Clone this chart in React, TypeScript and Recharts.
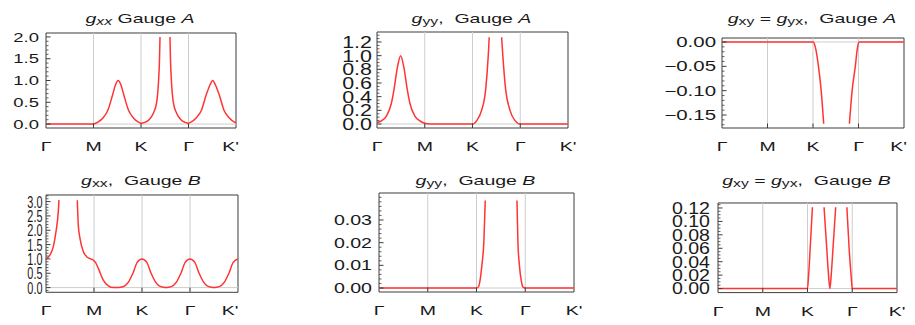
import { Line, LineChart, ReferenceArea, ReferenceLine, XAxis, YAxis } from 'recharts'

type Pt = [number, number | null]

// x positions along the path: Γ=0, M=1, K=2, Γ=3, K'=4
const xTicks = [0, 1, 2, 3, 4]
const xLabels = ['Γ', 'M', 'K', 'Γ', "K'"]

// values (null = curve leaves the plot range)
const gxxA: Pt[] = [
  [0, 0], [1, 0], [1.1, 0.05], [1.2, 0.14], [1.3, 0.31], [1.4, 0.66], [1.46, 0.89], [1.52, 1.0],
  [1.58, 0.89], [1.64, 0.66], [1.74, 0.31], [1.84, 0.14], [1.94, 0.05], [2.0, 0.02],
  [2.08, 0.04], [2.17, 0.1], [2.26, 0.25], [2.33, 0.5], [2.37, 1.0], [2.39, 1.5], [2.4, 2.0], [2.5, null],
  [2.61, 2.0], [2.62, 1.5], [2.64, 1.0], [2.68, 0.5], [2.75, 0.25], [2.84, 0.1], [2.93, 0.04], [3.0, 0.02],
  [3.06, 0.05], [3.16, 0.14], [3.27, 0.31], [3.37, 0.66], [3.45, 0.89], [3.51, 1.0], [3.57, 0.89],
  [3.65, 0.66], [3.75, 0.31], [3.86, 0.14], [3.96, 0.05], [4.0, 0.03],
]

const gyyA: Pt[] = [
  [0, 0.02], [0.1, 0.05], [0.2, 0.12], [0.3, 0.3], [0.355, 0.5], [0.425, 0.82], [0.495, 1.0],
  [0.565, 0.82], [0.635, 0.5], [0.69, 0.3], [0.79, 0.12], [0.89, 0.05], [1.0, 0.01], [1.1, 0.0],
  [2.0, 0.0], [2.09, 0.05], [2.19, 0.2], [2.275, 0.5], [2.33, 1.0], [2.35, 1.27], [2.48, null],
  [2.61, 1.27], [2.635, 1.0], [2.695, 0.5], [2.785, 0.2], [2.89, 0.05], [3.0, 0.0], [4.0, 0.0],
]

const gxyA: Pt[] = [
  [0, 0], [2.0, 0], [2.05, -0.01], [2.12, -0.05], [2.18, -0.1], [2.235, -0.168], [2.5, null],
  [2.8, -0.168], [2.86, -0.1], [2.93, -0.05], [2.98, -0.01], [3.02, 0], [4, 0],
]

const gxxB: Pt[] = [
  [0, 1.0], [0.083, 1.14], [0.152, 1.43], [0.208, 1.95], [0.256, 2.65], [0.27, 3.05], [0.45, null],
  [0.652, 3.05], [0.673, 2.18], [0.708, 1.72], [0.777, 1.26], [0.848, 1.08], [0.93, 1.0], [0.985, 0.96],
  [1.03, 0.88], [1.09, 0.67], [1.19, 0.27], [1.3, 0.06], [1.4, 0.0], [1.47, 0.0],
  [1.55, 0.01], [1.64, 0.06], [1.72, 0.2], [1.81, 0.5], [1.9, 0.88], [2.0, 1.0],
  [2.1, 0.88], [2.19, 0.5], [2.28, 0.2], [2.36, 0.06], [2.45, 0.01], [2.5, 0.0],
  [2.55, 0.01], [2.64, 0.06], [2.72, 0.2], [2.81, 0.5], [2.9, 0.88], [3.0, 1.0],
  [3.1, 0.88], [3.19, 0.5], [3.28, 0.2], [3.36, 0.06], [3.45, 0.01], [3.5, 0.0],
  [3.55, 0.01], [3.64, 0.06], [3.72, 0.2], [3.81, 0.5], [3.9, 0.88], [4.0, 1.0],
]

const gyyB: Pt[] = [
  [0, 0], [2.0, 0], [2.04, 0.0005], [2.07, 0.003], [2.11, 0.01], [2.15, 0.02], [2.18, 0.0386], [2.5, null],
  [2.83, 0.0386], [2.85, 0.02], [2.88, 0.01], [2.92, 0.003], [2.95, 0.0005], [3.0, 0], [4, 0],
]

const gxyB: Pt[] = [
  [0, 0], [2.0, 0], [2.02, 0.015], [2.06, 0.06], [2.11, 0.121], [2.24, null],
  [2.37, 0.121], [2.43, 0.06], [2.47, 0.02], [2.5, 0.0], [2.53, 0.02], [2.57, 0.06], [2.63, 0.121], [2.75, null],
  [2.88, 0.121], [2.93, 0.06], [2.98, 0.015], [3.0, 0], [4, 0],
]

// y tick labels
const ticksGxxA = [0, 0.5, 1, 1.5, 2]
const labelsGxxA = ['0.0', '0.5', '1.0', '1.5', '2.0']
const ticksGyyA = [0, 0.2, 0.4, 0.6, 0.8, 1.0, 1.2]
const labelsGyyA = ['0.0', '0.2', '0.4', '0.6', '0.8', '1.0', '1.2']
const ticksGxyA = [0, -0.05, -0.1, -0.15]
const labelsGxyA = ['0.00', '−0.05', '−0.10', '−0.15']
const ticksGxxB = [0, 0.5, 1, 1.5, 2, 2.5, 3]
const labelsGxxB = ['0.0', '0.5', '1.0', '1.5', '2.0', '2.5', '3.0']
const ticksGyyB = [0, 0.01, 0.02, 0.03]
const labelsGyyB = ['0.00', '0.01', '0.02', '0.03']
const ticksGxyB = [0, 0.02, 0.04, 0.06, 0.08, 0.1, 0.12]
const labelsGxyB = ['0.00', '0.02', '0.04', '0.06', '0.08', '0.10', '0.12']

const FONT = '"Liberation Sans", Arial, Helvetica, sans-serif'
const RED = '#ff3434'
const GRID = '#cdcdcd'
const FRAME = '#3c3c3c'
const INK = '#1a1a1a'

const PAD_L = 60
const PAD_T = 6
const PAD_R = 8
const PAD_B = 34

// minor tick positions, rounded so they compare cleanly with the majors
function steps(lo: number, hi: number, step: number) {
  const out: number[] = []
  const n = Math.round((hi - lo) / step)
  for (let i = 0; i <= n; i++) out.push(Math.round((lo + i * step) * 1e6) / 1e6)
  return out
}

type Part = { s: string; i?: boolean; sub?: boolean }

type PanelCfg = {
  frame: { l: number; t: number; r: number; b: number }
  domain: [number, number]
  points: Pt[]
  major: number[]
  labels: string[]
  minor: number[]
  fs: number
  sx: number
  gap: number
  lastDx: number
  title: Part[]
}

const g = (sub: string, italicSub = false): Part[] => [{ s: 'g', i: true }, { s: sub, sub: true, i: italicSub }]

const panels: PanelCfg[] = [
  {
    frame: { l: 46, t: 33, r: 236, b: 128 }, domain: [-0.09, 2.09], points: gxxA,
    major: ticksGxxA, labels: labelsGxxA, minor: steps(0, 2, 0.1),
    fs: 13, sx: 1.42, gap: 7, lastDx: -5.5,
    title: [...g('xx', true), { s: ' Gauge ' }, { s: 'A', i: true }],
  },
  {
    frame: { l: 377, t: 32, r: 568, b: 128 }, domain: [-0.0585, 1.346], points: gyyA,
    major: ticksGyyA, labels: labelsGyyA, minor: steps(0, 1.3, 0.05),
    fs: 16.5, sx: 1.3, gap: 5, lastDx: 0,
    title: [...g('yy'), { s: ',  Gauge ' }, { s: 'A', i: true }],
  },
  {
    frame: { l: 722, t: 38, r: 904, b: 128 }, domain: [-0.1767, 0.0082], points: gxyA,
    major: ticksGxyA, labels: labelsGxyA, minor: steps(-0.17, 0, 0.01),
    fs: 14, sx: 1.46, gap: 6, lastDx: -5.5,
    title: [...g('xy'), { s: ' = ' }, ...g('yx'), { s: ',  Gauge ' }, { s: 'A', i: true }],
  },
  {
    frame: { l: 46, t: 194.7, r: 238, b: 292 }, domain: [-0.164, 3.23], points: gxxB,
    major: ticksGxxB, labels: labelsGxxB, minor: steps(-0.1, 3.2, 0.1),
    fs: 17, sx: 0.64, gap: 3.5, lastDx: -8,
    title: [...g('xx'), { s: ',  Gauge ' }, { s: 'B', i: true }],
  },
  {
    frame: { l: 379, t: 193, r: 574, b: 292 }, domain: [-0.00176, 0.0419], points: gyyB,
    major: ticksGyyB, labels: labelsGyyB, minor: steps(0, 0.04, 0.002),
    fs: 14, sx: 1.4, gap: 7, lastDx: 0,
    title: [...g('yy'), { s: ',  Gauge ' }, { s: 'B', i: true }],
  },
  {
    frame: { l: 718, t: 202.7, r: 897, b: 292.3 }, domain: [-0.006, 0.1274], points: gxyB,
    major: ticksGxyB, labels: labelsGxyB, minor: steps(0, 0.125, 0.005),
    fs: 16.3, sx: 1.2, gap: 8, lastDx: 0,
    title: [...g('xy'), { s: ' = ' }, ...g('yx'), { s: ',  Gauge ' }, { s: 'B', i: true }],
  },
]

function makeYTick(cfg: PanelCfg) {
  return (props: any) => {
    const { x, y, payload } = props
    const k = cfg.major.findIndex((m) => Math.abs(m - payload.value) < 1e-6)
    if (k < 0) {
      return <line x1={x} x2={x + 2.5} y1={y} y2={y} stroke={FRAME} strokeWidth={0.8} />
    }
    return (
      <g>
        <line x1={x} x2={x + 4.5} y1={y} y2={y} stroke={FRAME} strokeWidth={1} />
        <text
          transform={`translate(${x - cfg.gap},${y + cfg.fs * 0.36}) scale(${cfg.sx},1)`}
          textAnchor="end"
          fontSize={cfg.fs}
          fontFamily={FONT}
          fill={INK}
        >
          {cfg.labels[k]}
        </text>
      </g>
    )
  }
}

function makeXTick(cfg: PanelCfg) {
  return (props: any) => {
    const { x, y, payload } = props
    const k = xTicks.indexOf(payload.value)
    const inner = k > 0 && k < xTicks.length - 1
    const dx = k === xTicks.length - 1 ? cfg.lastDx : 0
    return (
      <g>
        {inner && <line x1={x} x2={x} y1={y} y2={y - 4.5} stroke={FRAME} strokeWidth={1} />}
        <text
          transform={`translate(${x + dx},${y + 23}) scale(1.5,1)`}
          textAnchor="middle"
          fontSize={13}
          fontFamily={FONT}
          fill={INK}
        >
          {xLabels[k]}
        </text>
      </g>
    )
  }
}

function Panel({ cfg }: { cfg: PanelCfg }) {
  const { frame, domain } = cfg
  const w = frame.r - frame.l
  const h = frame.b - frame.t
  const data = cfg.points.map(([t, v]) => ({ t, v }))
  return (
    <div style={{ position: 'absolute', left: frame.l - PAD_L, top: frame.t - PAD_T }}>
      <LineChart
        width={w + PAD_L + PAD_R}
        height={h + PAD_T + PAD_B}
        data={data}
        margin={{ top: PAD_T, right: PAD_R, bottom: 0, left: 0 }}
      >
        <XAxis
          dataKey="t"
          type="number"
          domain={[0, 4]}
          ticks={xTicks}
          interval={0}
          height={PAD_B}
          axisLine={false}
          tickLine={false}
          tickSize={0}
          tickMargin={0}
          tick={makeXTick(cfg)}
          allowDataOverflow
        />
        <YAxis
          type="number"
          domain={domain}
          ticks={cfg.minor}
          interval={0}
          width={PAD_L}
          axisLine={false}
          tickLine={false}
          tickSize={0}
          tickMargin={0}
          tick={makeYTick(cfg)}
          allowDataOverflow
        />
        <ReferenceLine x={1} stroke={GRID} strokeWidth={1} />
        <ReferenceLine x={2} stroke={GRID} strokeWidth={1} />
        <ReferenceLine x={3} stroke={GRID} strokeWidth={1} />
        <ReferenceLine y={0} stroke={GRID} strokeWidth={1} />
        <Line
          dataKey="v"
          type="monotone"
          stroke={RED}
          strokeWidth={1.5}
          dot={false}
          activeDot={false}
          isAnimationActive={false}
        />
        <ReferenceArea x1={0} x2={4} y1={domain[0]} y2={domain[1]} fill="none" stroke={FRAME} strokeWidth={1} />
      </LineChart>
    </div>
  )
}

function Title({ cfg, baseline }: { cfg: PanelCfg; baseline: number }) {
  const cx = (cfg.frame.l + cfg.frame.r) / 2 - 1
  let inSub = false
  return (
    <text
      transform={`translate(${cx},${baseline}) scale(1.5,1)`}
      textAnchor="middle"
      fontSize={13}
      fontFamily={FONT}
      fill={INK}
      style={{ whiteSpace: 'pre' }}
    >
      {cfg.title.map((p, i) => {
        let dy = 0
        if (p.sub && !inSub) dy = 2.5
        if (!p.sub && inSub) dy = -2.5
        inSub = !!p.sub
        return (
          <tspan key={i} dy={dy} fontStyle={p.i ? 'italic' : 'normal'} fontSize={p.sub ? 10.5 : 13}>
            {p.s}
          </tspan>
        )
      })}
    </text>
  )
}

export default function App() {
  return (
    <div style={{ position: 'absolute', left: 0, top: 0, width: 915, height: 325, background: '#fff', overflow: 'hidden' }}>
      {panels.map((p, i) => (
        <Panel key={i} cfg={p} />
      ))}
      <svg width={915} height={325} style={{ position: 'absolute', left: 0, top: 0, pointerEvents: 'none' }}>
        {panels.map((p, i) => (
          <Title key={i} cfg={p} baseline={i < 3 ? 22.5 : 184.5} />
        ))}
      </svg>
    </div>
  )
}
